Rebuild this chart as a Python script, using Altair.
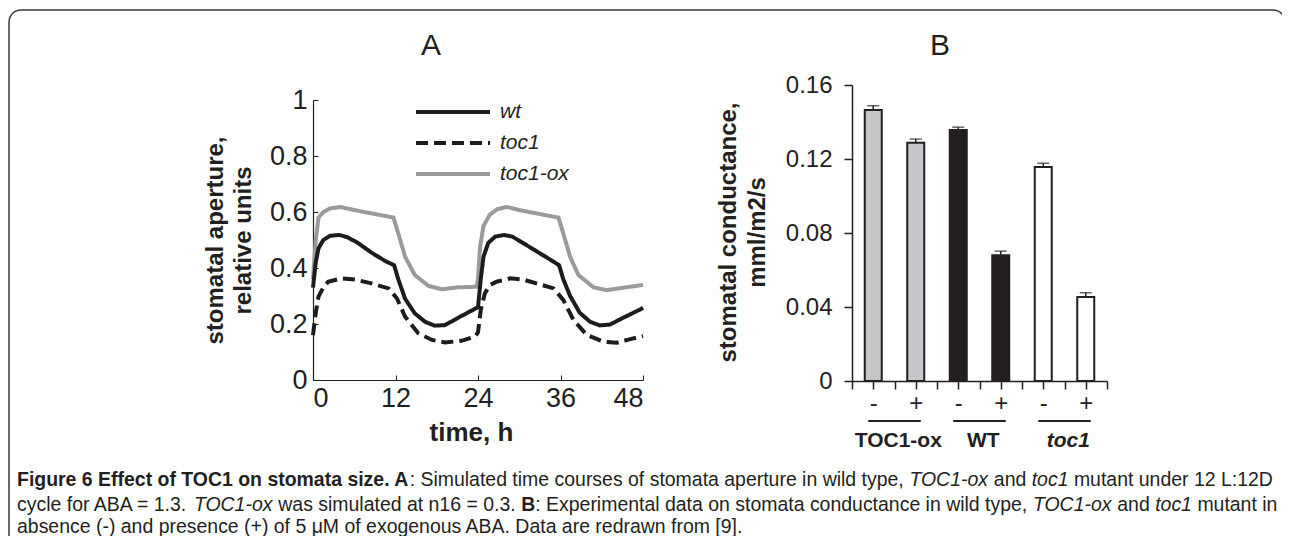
import altair as alt
import pandas as pd

FONT = "Liberation Sans"
INK = "#231f20"

# ---------------- Panel A: simulated stomatal aperture ----------------
series_names = ["wt", "toc1", "toc1-ox"]
series_colors = ["#1c1c1c", "#1c1c1c", "#9a9a9a"]

wt_t = [0, 0.4, 0.8, 1.5, 2.5, 3.8, 5, 6.5, 8.5, 10.5, 11.8, 12.4, 13.4, 14.8, 16.3,
        17.7, 19.2, 21.1, 23.6, 24.0, 24.4, 24.8, 25.5, 26.5, 27.8, 29, 30.5, 32.5,
        34.5, 35.8, 36.4, 37.4, 38.8, 40.3, 41.7, 43.2, 45.1, 47.6, 48]
wt_v = [0.33, 0.42, 0.47, 0.50, 0.515, 0.518, 0.51, 0.49, 0.455, 0.425, 0.41, 0.36,
        0.29, 0.238, 0.208, 0.194, 0.196, 0.222, 0.255, 0.26, 0.36, 0.44, 0.49, 0.512,
        0.518, 0.512, 0.49, 0.46, 0.43, 0.41, 0.36, 0.30, 0.24, 0.208, 0.195, 0.198,
        0.222, 0.252, 0.258]

toc1_t = [0, 0.4, 0.8, 1.5, 2.2, 4.2, 6.1, 8.5, 11, 12.2, 13.4, 15.3, 17.3, 19.2, 21.6,
          23.6, 24.0, 24.4, 25.0, 25.8, 26.7, 28.7, 30.5, 32.5, 35, 36.4, 37.9, 39.8,
          42.2, 44.2, 46, 48]
toc1_v = [0.16, 0.24, 0.298, 0.33, 0.351, 0.363, 0.359, 0.345, 0.327, 0.292, 0.226,
          0.167, 0.143, 0.134, 0.14, 0.155, 0.17, 0.25, 0.31, 0.34, 0.351, 0.363, 0.359,
          0.345, 0.327, 0.286, 0.214, 0.161, 0.137, 0.133, 0.145, 0.157]

ox_t = [0, 0.4, 0.8, 1.5, 2.5, 4, 6, 8.5, 11.7, 12.4, 13.4, 14.8, 16.8, 18.7, 21.1,
        23.8, 24.0, 24.3, 24.8, 25.7, 26.8, 28.2, 30, 32.5, 35.7, 36.4, 37.4, 38.6,
        40.8, 42.7, 45.6, 47.8, 48]
ox_v = [0.36, 0.5, 0.58, 0.60, 0.613, 0.618, 0.607, 0.595, 0.58, 0.524, 0.44, 0.375,
        0.336, 0.324, 0.331, 0.333, 0.36, 0.476, 0.55, 0.59, 0.61, 0.618, 0.607, 0.595,
        0.58, 0.524, 0.44, 0.375, 0.331, 0.321, 0.331, 0.339, 0.34]

x_ticks_A = [0, 12, 24, 36, 48]
y_ticks_A = [0, 0.2, 0.4, 0.6, 0.8, 1]

# ---------------- Panel B: measured stomatal conductance ----------------
genotypes = ["TOC1-ox", "TOC1-ox", "WT", "WT", "toc1", "toc1"]
aba = ["-", "+", "-", "+", "-", "+"]
conductance = [0.1465, 0.1288, 0.1357, 0.068, 0.1157, 0.0454]
cond_err = [0.0023, 0.002, 0.0015, 0.0022, 0.002, 0.0023]
group_names = ["TOC1-ox", "WT", "toc1"]
group_fills = ["#c6c7c9", "#231f20", "#ffffff"]
y_ticks_B = [0, 0.04, 0.08, 0.12, 0.16]

panel_letters = ["A", "B"]
caption = [
    [("Figure 6 Effect of TOC1 on stomata size. A", "bold", "normal"),
     (": Simulated time courses of stomata aperture in wild type, ", "normal", "normal"),
     ("TOC1-ox", "normal", "italic"),
     (" and ", "normal", "normal"),
     ("toc1", "normal", "italic"),
     (" mutant under 12 L:12D", "normal", "normal")],
    [("cycle for ABA = 1.3. ", "normal", "normal"),
     ("TOC1-ox", "normal", "italic"),
     (" was simulated at n16 = 0.3. ", "normal", "normal"),
     ("B", "bold", "normal"),
     (": Experimental data on stomata conductance in wild type, ", "normal", "normal"),
     ("TOC1-ox", "normal", "italic"),
     (" and ", "normal", "normal"),
     ("toc1", "normal", "italic"),
     (" mutant in", "normal", "normal")],
    [("absence (-)  and presence (+) of 5 \u03bcM of exogenous ABA. Data are redrawn from [9].",
      "normal", "normal")],
]
caption_y = [480, 505, 527]

# ---------------- approximate Liberation Sans advance widths (em) for caption layout ----
_reg = {" ": .278, "(": .333, ")": .333, "+": .584, ",": .278, "-": .333, ".": .278,
        ":": .278, "=": .584, "[": .278, "]": .278, "\u03bc": .576}
for ch in "0123456789":
    _reg[ch] = .556
_reg.update(dict(zip("abcdefghijklmnopqrstuvwxyz",
    [.556, .556, .5, .556, .556, .278, .556, .556, .222, .222, .5, .222, .833, .556, .556,
     .556, .556, .333, .5, .278, .556, .5, .722, .5, .5, .5])))
_reg.update(dict(zip("ABCDEFGHIJKLMNOPQRSTUVWXYZ",
    [.667, .667, .722, .722, .667, .611, .778, .722, .278, .5, .667, .556, .833, .722, .778,
     .667, .778, .722, .667, .611, .722, .667, .944, .667, .667, .611])))
_bold = dict(_reg)
_bold.update({":": .333})
_bold.update(dict(zip("abcdefghijklmnopqrstuvwxyz",
    [.556, .611, .556, .611, .556, .333, .611, .611, .278, .278, .556, .278, .889, .611, .611,
     .611, .611, .389, .556, .333, .611, .556, .778, .556, .556, .5])))
_bold.update(dict(zip("ABCDEFGHIJKLMNOPQRSTUVWXYZ",
    [.722, .722, .722, .722, .667, .611, .778, .722, .278, .556, .722, .611, .833, .722, .778,
     .667, .778, .722, .667, .611, .722, .667, .944, .667, .667, .611])))


def em_width(s, weight):
    table = _bold if weight == "bold" else _reg
    return sum(table.get(ch, .556) for ch in s)


CAP_LEFT, CAP_RIGHT = 17, 1273
cap_size = (CAP_RIGHT - CAP_LEFT) / sum(em_width(s, w) for s, w, _ in caption[0])

# ---------------- build tables ----------------
rows = []
for name, ts, vs in [("toc1-ox", ox_t, ox_v), ("toc1", toc1_t, toc1_v), ("wt", wt_t, wt_v)]:
    for t, v in zip(ts, vs):
        rows.append({"series": name, "t": t, "v": v})
dfA = pd.DataFrame(rows)

cats = [f"{g}|{a}" for g, a in zip(genotypes, aba)]
dfB = pd.DataFrame({"cat": cats, "group": genotypes, "value": conductance,
                    "top": [v + e for v, e in zip(conductance, cond_err)]})
dfG = pd.DataFrame({"group": group_names,
                    "c1": [f"{g}|-" for g in group_names],
                    "c2": [f"{g}|+" for g in group_names]})

OX = 8  # page margin -> chart coordinates
W, H = 1274, 528


def xA():
    return alt.Scale(domain=[0, 48], range=[313 - OX, 643 - OX], nice=False, zero=False)


def yA():
    return alt.Scale(domain=[0, 1], range=[380 - OX, 100 - OX], nice=False, zero=False)


def xB():
    return alt.Scale(domain=cats, range=[852 - OX, 1107 - OX], paddingInner=0, paddingOuter=0)


def yB():
    return alt.Scale(domain=[0, 0.16], range=[381 - OX, 85 - OX], nice=False, zero=True)


legA = alt.Legend(orient="none", legendX=406, legendY=89.5, title=None, symbolType="stroke",
                  symbolSize=5476, symbolStrokeWidth=4, clipHeight=29, rowPadding=2,
                  labelFont=FONT, labelFontSize=21, labelFontStyle="italic", labelColor=INK,
                  labelOffset=8, padding=0)

# ---------------- Panel A ----------------
linesA = alt.Chart(dfA).mark_line(strokeWidth=4).encode(
    x=alt.X("t:Q", scale=xA(), axis=alt.Axis(
        orient="bottom", offset=380 - OX - H, values=x_ticks_A, tickSize=0, labelPadding=5,
        labelFont=FONT, labelFontSize=27, labelColor=INK, domainColor=INK, domainWidth=1.2,
        title="time, h", titleFont=FONT, titleFontSize=26, titleFontWeight="bold",
        titleColor=INK, titleX=471 - OX, titleY=52, titleBaseline="middle", titleAlign="center",
        grid=False)),
    y=alt.Y("v:Q", scale=yA(), axis=alt.Axis(
        orient="left", offset=-(313 - OX), values=y_ticks_A, format="~g", tickSize=0,
        labelPadding=6, labelFont=FONT, labelFontSize=27, labelColor=INK, domainColor=INK,
        domainWidth=1.2, title=["stomatal aperture,", "relative units"], titleFont=FONT,
        titleFontSize=24, titleFontWeight="bold", titleColor=INK, titleLineHeight=28,
        titleX=215 - 313, titleY=240 - OX, titleAngle=270, titleBaseline="middle",
        titleAlign="center", grid=False)),
    color=alt.Color("series:N", scale=alt.Scale(domain=series_names, range=series_colors),
                    legend=legA),
    strokeDash=alt.StrokeDash("series:N", scale=alt.Scale(domain=series_names,
                              range=[[1, 0], [12, 6], [1, 0]]), legend=legA),
)

ticksA = alt.Chart(dfA).mark_point(opacity=0).encode(
    x=alt.X("t:Q", scale=xA(), axis=alt.Axis(
        orient="top", offset=-(380 - OX), values=x_ticks_A, labels=False, domain=False,
        tickSize=5, tickColor=INK, title=None, grid=False)),
    y=alt.Y("v:Q", scale=yA(), axis=alt.Axis(
        orient="right", offset=(313 - OX) - W, values=y_ticks_A, labels=False,
        domain=False, tickSize=5, tickColor=INK, title=None, grid=False)),
)

# ---------------- Panel B ----------------
bars = alt.Chart(dfB).mark_bar(size=17, stroke=INK, strokeWidth=2).encode(
    x=alt.X("cat:N", scale=xB(), sort=None, axis=alt.Axis(
        orient="bottom", offset=381 - OX - H, tickBand="extent", tickSize=8,
        labelExpr="split(datum.value, '|')[1]", labelAngle=0, labelPadding=2,
        labelFont=FONT, labelFontSize=24, labelColor=INK, domainColor=INK, domainWidth=1.5,
        tickColor=INK, tickWidth=1.5, title=None, grid=False)),
    y=alt.Y("value:Q", scale=yB(), axis=alt.Axis(
        orient="left", offset=-(852 - OX), values=y_ticks_B, format="~g", tickSize=8,
        labelPadding=12, labelFont=FONT, labelFontSize=24, labelColor=INK,
        domainColor=INK, domainWidth=1.5, tickColor=INK, tickWidth=1.5,
        title=["stomatal conductance,", "mml/m2/s"], titleFont=FONT, titleFontSize=24,
        titleFontWeight="bold", titleColor=INK, titleLineHeight=29,
        titleX=728 - 852, titleY=232 - OX, titleAngle=270, titleBaseline="middle",
        titleAlign="center", grid=False)),
    fill=alt.Fill("group:N", scale=alt.Scale(domain=group_names, range=group_fills),
                  legend=None),
)

# extra ticks at the category centres (below each "-" / "+")
ticksB = alt.Chart(dfB).mark_point(opacity=0).encode(
    x=alt.X("cat:N", scale=xB(), sort=None, axis=alt.Axis(
        orient="bottom", offset=381 - OX - H, labels=False, domain=False, tickSize=8,
        tickColor=INK, tickWidth=1.5, title=None, grid=False)),
    y=alt.Y("value:Q", scale=yB(), axis=None),
)

errs = alt.Chart(dfB).mark_rule(strokeWidth=1.5, color=INK).encode(
    x=alt.X("cat:N", scale=xB(), sort=None, axis=None),
    y=alt.Y("value:Q", scale=yB(), axis=None),
    y2="top:Q",
)
caps = alt.Chart(dfB).mark_tick(size=12, thickness=1.5, color=INK).encode(
    x=alt.X("cat:N", scale=xB(), sort=None, axis=None),
    y=alt.Y("top:Q", scale=yB(), axis=None),
)

underline = alt.Chart(dfG).mark_rule(strokeWidth=2, color=INK, xOffset=-5, x2Offset=5).encode(
    x=alt.X("c1:N", scale=xB(), axis=None),
    x2="c2:N",
    y=alt.value(421 - OX),
)
glabel_kw = dict(align="center", baseline="middle", font=FONT, fontSize=21,
                 fontWeight="bold", color=INK, xOffset=25)
glabels = alt.Chart(dfG).transform_filter("datum.group != 'toc1'").mark_text(**glabel_kw).encode(
    x=alt.X("c1:N", scale=xB(), axis=None), y=alt.value(441 - OX), text="group:N")
glabels_it = alt.Chart(dfG).transform_filter("datum.group == 'toc1'").mark_text(
    fontStyle="italic", **glabel_kw).encode(
    x=alt.X("c1:N", scale=xB(), axis=None), y=alt.value(441 - OX), text="group:N")


# ---------------- decorations: panel letters, caption, frame ----------------
def text_item(s, x, y, size, weight="normal", style="normal", align="left"):
    return alt.Chart(pd.DataFrame({"s": [s]})).mark_text(
        align=align, baseline="middle", font=FONT, fontSize=size, fontWeight=weight,
        fontStyle=style, color=INK).encode(x=alt.value(x - OX), y=alt.value(y - OX), text="s:N")


letters = [text_item(panel_letters[0], 431, 46, 30, align="center"),
           text_item(panel_letters[1], 940, 46, 30, align="center")]

cap_layers = []
for line, y in zip(caption, caption_y):
    x = CAP_LEFT
    for s, w, st in line:
        lead = len(s) - len(s.lstrip(" "))
        start = x + em_width(s[:lead], w) * cap_size
        cap_layers.append(text_item(s.strip(" "), start, y, cap_size, weight=w, style=st))
        x += em_width(s, w) * cap_size

frame = alt.Chart(pd.DataFrame({"f": [1]})).mark_rect(
    filled=False, stroke="#3a3a3a", strokeWidth=1.5, cornerRadius=12).encode(
    x=alt.value(9 - OX), x2=alt.value(1285 - OX), y=alt.value(10 - OX), y2=alt.value(640))

chart = alt.layer(
    frame, linesA, ticksA, bars, ticksB, errs, caps, underline, glabels, glabels_it,
    *letters, *cap_layers
).resolve_scale(
    x="independent", y="independent", color="independent", fill="independent",
    strokeDash="independent"
).resolve_axis(x="independent", y="independent").properties(
    width=W, height=H, padding=0, autosize=alt.AutoSizeParams(type="none"),
    background="white").configure_view(strokeWidth=0)

chart.save("out.html", embed_options={"renderer": "svg", "actions": False})
